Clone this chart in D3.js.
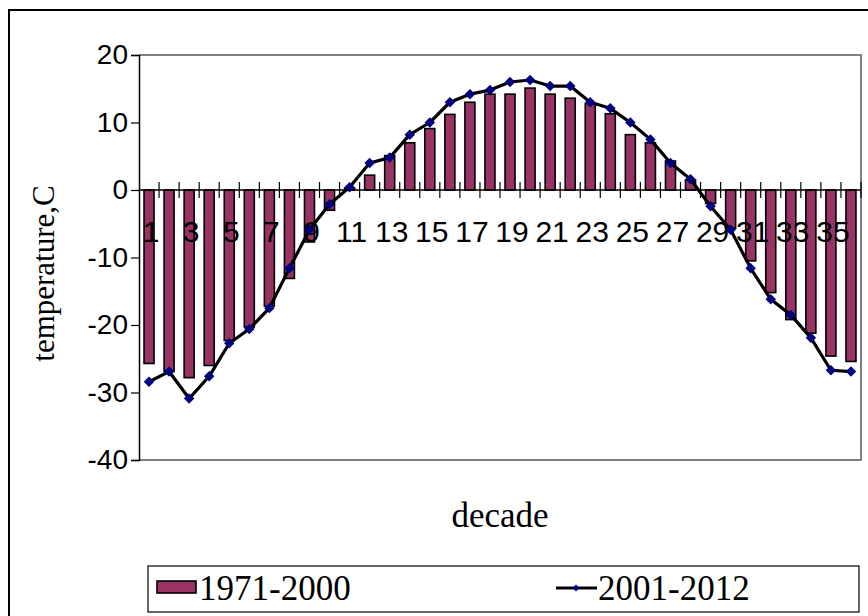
<!DOCTYPE html>
<html><head><meta charset="utf-8">
<script src="https://cdn.jsdelivr.net/npm/d3@7"></script>
<style>html,body{margin:0;padding:0;background:#fff;}svg{display:block;}</style>
</head><body>
<svg id="c" width="868" height="616"></svg>
<script>
const decades = d3.range(1, 37);
const tickLabels = decades.filter(d => d % 2 === 1);
const yTicks = [20, 10, 0, -10, -20, -30, -40];
const series1Name = "1971-2000";
const series2Name = "2001-2012";
const normal19712000 = [-25.7,-26.9,-27.8,-26.0,-22.3,-20.3,-17.2,-13.1,-7.7,-3.0,0.3,2.2,5.1,7.0,9.1,11.2,13.0,14.2,14.2,15.1,14.2,13.6,12.8,11.3,8.2,7.0,4.3,1.5,-2.0,-5.7,-10.5,-15.2,-19.2,-21.2,-24.6,-25.4];
const recent20012012 = [-28.4,-26.9,-30.9,-27.6,-22.7,-20.6,-17.5,-11.6,-5.9,-2.1,0.4,4.0,4.8,8.2,10.0,13.0,14.2,14.8,16.0,16.3,15.4,15.4,13.0,12.1,10.0,7.5,4.0,1.6,-2.4,-5.9,-11.6,-16.2,-18.5,-21.9,-26.7,-26.9];

const svg = d3.select("#c");
const L = 139, R = 861, T = 55, B = 460;
const x = d3.scaleBand().domain(decades).range([L, R]).padding(0);
const y = d3.scaleLinear().domain([-40, 20]).range([B, T]);
const barW = 10;
const sans = "Liberation Sans, Arial, sans-serif";
const serif = "Liberation Serif, Times New Roman, serif";

// outer frame
svg.append("rect").attr("x", 9).attr("y", 10).attr("width", 900).attr("height", 700)
  .attr("fill", "none").attr("stroke", "#000").attr("stroke-width", 2);

// plot area border (gray)
svg.append("path").attr("d", `M${L},${T}H${R}V${B}H${L}`)
  .attr("fill", "none").attr("stroke", "#808080").attr("stroke-width", 2);

// bars
svg.append("g").selectAll("rect").data(normal19712000).join("rect")
  .attr("x", (d, i) => x(decades[i]) + x.bandwidth() / 2 - barW / 2)
  .attr("y", d => Math.min(y(d), y(0)))
  .attr("width", barW)
  .attr("height", d => Math.abs(y(d) - y(0)))
  .attr("fill", "#993366").attr("stroke", "#000").attr("stroke-width", 1.6);

// x axis at zero with cross ticks
const xa = svg.append("g");
xa.append("line").attr("x1", L).attr("x2", R).attr("y1", y(0)).attr("y2", y(0))
  .attr("stroke", "#000").attr("stroke-width", 1.5);
xa.selectAll("line.t").data(decades).join("line").attr("class", "t")
  .attr("x1", d => x(d) + x.bandwidth()).attr("x2", d => x(d) + x.bandwidth())
  .attr("y1", y(0) - 8).attr("y2", y(0) + 8).attr("stroke", "#000").attr("stroke-width", 1.2);

// y axis
const yAxis = d3.axisLeft(y).tickValues(yTicks).tickSize(8).tickPadding(3).tickFormat(d3.format("d"));
const ya = svg.append("g").attr("transform", `translate(${L},0)`).call(yAxis);
ya.select(".domain").attr("stroke", "#000").attr("stroke-width", 1.5);
ya.selectAll(".tick line").attr("stroke", "#000").attr("stroke-width", 1.2);
ya.selectAll(".tick text").attr("font-family", sans)
  .attr("font-size", 28).attr("fill", "#000").text(d => d < 0 ? "-" + Math.abs(d) : d);

// category labels (drawn under the line)
svg.append("g").selectAll("text").data(tickLabels).join("text")
  .attr("x", d => x(d) + x.bandwidth() / 2 + 2).attr("y", y(0) + 52)
  .attr("text-anchor", "middle").attr("font-family", sans)
  .attr("font-size", 30).attr("fill", "#000").text(d => d);

// line series
const line = d3.line().x((d, i) => x(decades[i]) + x.bandwidth() / 2).y(d => y(d));
svg.append("path").datum(recent20012012).attr("d", line)
  .attr("fill", "none").attr("stroke", "#000").attr("stroke-width", 3.2).attr("stroke-linejoin", "round");
const diamond = d3.symbol().type(d3.symbolDiamond2).size(70);
svg.append("g").selectAll("path").data(recent20012012).join("path")
  .attr("d", diamond)
  .attr("transform", (d, i) => `translate(${x(decades[i]) + x.bandwidth() / 2},${y(d)})`)
  .attr("fill", "#000080");

// axis titles
svg.append("text").attr("transform", `translate(54,${(T + B) / 2 + 16}) rotate(-90)`)
  .attr("text-anchor", "middle").attr("font-family", serif)
  .attr("font-size", 31).attr("fill", "#000").text("temperature,C");
svg.append("text").attr("x", 500).attr("y", 527)
  .attr("text-anchor", "middle").attr("font-family", serif)
  .attr("font-size", 35).attr("fill", "#000").text("decade");

// legend
const lg = svg.append("g");
lg.append("rect").attr("x", 148).attr("y", 566).attr("width", 711).attr("height", 46)
  .attr("fill", "#fff").attr("stroke", "#000").attr("stroke-width", 1.2);
lg.append("rect").attr("x", 157).attr("y", 581).attr("width", 39).attr("height", 12)
  .attr("fill", "#993366").attr("stroke", "#000").attr("stroke-width", 1.6);
lg.append("text").attr("x", 199).attr("y", 600).attr("font-family", serif)
  .attr("font-size", 35).attr("fill", "#000").text(series1Name);
lg.append("line").attr("x1", 556).attr("x2", 597).attr("y1", 588).attr("y2", 588)
  .attr("stroke", "#000").attr("stroke-width", 3);
lg.append("path").attr("d", d3.symbol().type(d3.symbolDiamond2).size(30))
  .attr("transform", "translate(576,588)").attr("fill", "#000080");
lg.append("text").attr("x", 598).attr("y", 600).attr("font-family", serif)
  .attr("font-size", 35).attr("fill", "#000").text(series2Name);
</script>
</body></html>
